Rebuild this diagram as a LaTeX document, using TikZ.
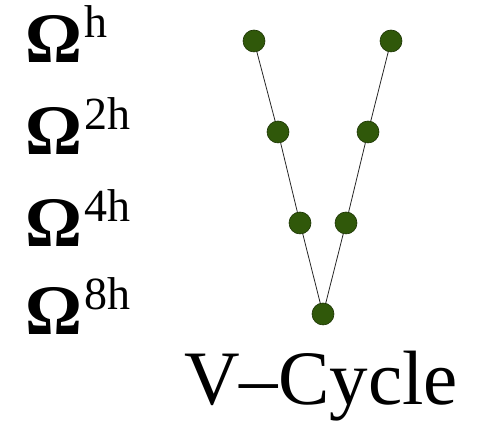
\documentclass[tikz,border=0pt]{standalone}
\usepackage{fontspec}
\setmainfont{Liberation Serif}
\definecolor{dotfill}{RGB}{48,88,10}
\definecolor{dotedge}{RGB}{28,52,4}
\begin{document}
\begin{tikzpicture}[x=1pt,y=1pt,
  dot/.style={circle,minimum size=22pt,inner sep=0pt,fill=dotfill,draw=dotedge,line width=0.6pt},
  lvl/.style={anchor=base west,inner sep=0pt},
  link/.style={draw=black!85,line width=0.8pt}]
\useasboundingbox (0,0) rectangle (477,422);
\newcommand{\lvltext}[1]{{\fontsize{71}{71}\selectfont\bfseries Ω}\hspace{2pt}\raisebox{25pt}{\fontsize{46}{46}\selectfont #1}}
\node[lvl] (l1) at (25,359) {\lvltext{h}};
\node[lvl] (l2) at (25,267) {\lvltext{2h}};
\node[lvl] (l3) at (25,175) {\lvltext{4h}};
\node[lvl] (l4) at (25,87) {\lvltext{8h}};
\node[dot] (a) at (254,381) {};
\node[dot] (b) at (278,290) {};
\node[dot] (c) at (300,199) {};
\node[dot] (d) at (323,108) {};
\node[dot] (e) at (346,199) {};
\node[dot] (f) at (368,290) {};
\node[dot] (g) at (391,381) {};
\draw[link] (a) -- (b) -- (c) -- (d) -- (e) -- (f) -- (g);
\node[lvl] (vc) at (184,17) {\fontsize{77}{77}\selectfont V–Cycle};
\end{tikzpicture}
\end{document}
